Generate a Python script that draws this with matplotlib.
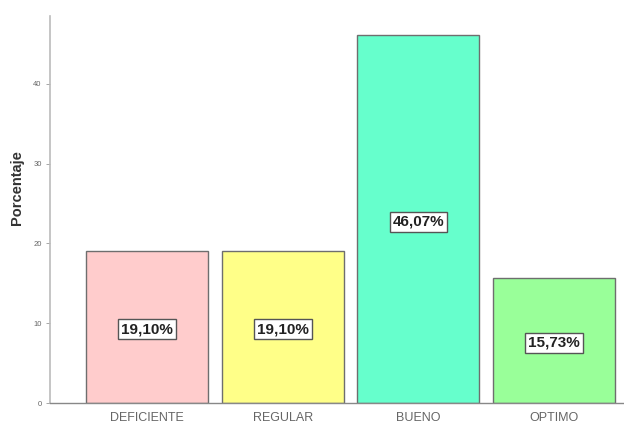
import matplotlib
matplotlib.use("Agg")
import matplotlib.pyplot as plt

# data
categorias = ["DEFICIENTE", "REGULAR", "BUENO", "OPTIMO"]
porcentajes = [19.10, 19.10, 46.07, 15.73]
etiquetas = ["19,10%", "19,10%", "46,07%", "15,73%"]
colores = ["#ffcccc", "#ffff88", "#66ffcc", "#99ff99"]
y_ticks = [0, 10, 20, 30, 40]

plt.rcParams['font.family'] = ['Liberation Sans', 'DejaVu Sans']

fig = plt.figure(figsize=(6.24, 4.28), dpi=100)
ax = fig.add_axes([0.080, 0.058, 0.92, 0.905])

x = list(range(len(categorias)))
ax.bar(x, porcentajes, width=0.9, color=colores, edgecolor="#6e6e6e", linewidth=1.0)

for xi, v, t in zip(x, porcentajes, etiquetas):
    ax.text(xi, v / 2 - 0.3, t, ha="center", va="center", fontsize=11, fontweight="bold",
            color="#222222",
            bbox=dict(boxstyle="square,pad=0.2", facecolor="white", edgecolor="#555555", linewidth=1.0))

ax.set_xlim(-0.715, 3.515)
ax.set_ylim(0, 48.5)
ax.set_xticks(x)
ax.set_xticklabels(categorias, fontsize=9, color="#666666")
ax.set_yticks(y_ticks)
ax.set_yticklabels([str(t) for t in y_ticks], fontsize=5.5, color="#666666")
ax.tick_params(axis="x", length=0, pad=6)
ax.tick_params(axis="y", length=3, width=0.6, color="#999999", pad=3)

ax.set_ylabel("Porcentaje", fontsize=10.5, fontweight="bold", color="#333333")
ax.yaxis.set_label_coords(-0.046, 0.556)

for s in ["top", "right"]:
    ax.spines[s].set_visible(False)
ax.spines["left"].set_color("#bbbbbb")
ax.spines["bottom"].set_color("#888888")
ax.spines["left"].set_linewidth(1.2)
ax.spines["bottom"].set_linewidth(1.0)

fig.savefig("out.png", dpi=100)
